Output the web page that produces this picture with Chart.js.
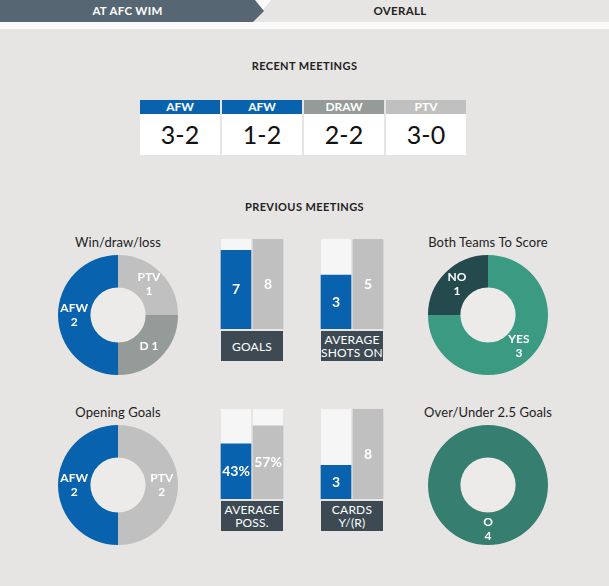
<!DOCTYPE html>
<html>
<head>
<meta charset="utf-8">
<script src="https://cdn.jsdelivr.net/npm/chart.js@4.4.0/dist/chart.umd.min.js"></script>
<style>
    body { margin: 0; background: #e6e5e3; font-family: Lato, 'Open Sans', sans-serif; }
    #page { position: relative; width: 609px; height: 586px; overflow: hidden; }
    .abs { position: absolute; }
    #topStrip { left: 0; top: 0; width: 609px; height: 29px; background: #fafafa; }
    .tab { top: 0; height: 22px; width: 609px; left: 0; }
    #tabOverall { background: #e6e5e3; clip-path: polygon(271px 0, 609px 0, 609px 22px, 253px 22px); }
    #tabHome { background: #566672; clip-path: polygon(0 0, 255px 0, 264px 11px, 253px 22px, 0 22px); }
    .tab-text { top: 0; height: 22px; line-height: 22px; font-size: 11.5px; font-weight: bold; text-align: center; letter-spacing: 0.3px; }
    .section-title { left: 0; width: 609px; text-align: center; font-size: 11px; font-weight: bold; color: #222; letter-spacing: 0.4px; }
    .result { width: 80px; }
    .result-head { height: 14px; line-height: 14px; color: #fff; font-size: 12px; font-weight: bold; text-align: center; }
    .result-score { height: 41px; line-height: 41px; background: #fff; color: #111; font-size: 25px; text-align: center; }
    .chart-title { width: 160px; text-align: center; font-size: 13px; color: #222; letter-spacing: 0.1px; }
    .bar-label { width: 62px; height: 30px; background: #3d4a53; color: #fff; font-size: 12px; line-height: 13px; letter-spacing: 0.2px;
        display: flex; align-items: center; justify-content: center; text-align: center; }
</style>
</head>
<body>
<div id="page">
    <div id="topStrip" class="abs"></div>
    <div id="tabOverall" class="abs tab"></div>
    <div id="tabHome" class="abs tab"></div>
    <div class="abs tab-text" style="left:0;width:255px;color:#fff;">AT AFC WIM</div>
    <div class="abs tab-text" style="left:264px;width:272px;color:#222;">OVERALL</div>

    <div class="abs section-title" style="top:59px;">RECENT MEETINGS</div>
    <div id="recent"></div>

    <div class="abs section-title" style="top:200px;">PREVIOUS MEETINGS</div>

    <div class="abs chart-title" style="left:38px;top:234px;">Win/draw/loss</div>
    <div class="abs chart-title" style="left:408px;top:234px;">Both Teams To Score</div>
    <div class="abs chart-title" style="left:38px;top:404px;">Opening Goals</div>
    <div class="abs chart-title" style="left:408px;top:404px;">Over/Under 2.5 Goals</div>

    <canvas id="wdlChart" class="abs" width="120" height="120" style="left:58px;top:255px;"></canvas>
    <canvas id="bttsChart" class="abs" width="120" height="120" style="left:428px;top:255px;"></canvas>
    <canvas id="openChart" class="abs" width="120" height="120" style="left:58px;top:425px;"></canvas>
    <canvas id="ouChart" class="abs" width="120" height="120" style="left:428px;top:425px;"></canvas>

    <canvas id="goalsChart" class="abs" width="64" height="90" style="left:220px;top:239px;"></canvas>
    <canvas id="shotsChart" class="abs" width="64" height="90" style="left:320px;top:239px;"></canvas>
    <canvas id="possChart" class="abs" width="64" height="90" style="left:220px;top:409px;"></canvas>
    <canvas id="cardsChart" class="abs" width="64" height="90" style="left:320px;top:409px;"></canvas>

    <div class="abs bar-label" style="left:221px;top:331px;">GOALS</div>
    <div class="abs bar-label" style="left:321px;top:331px;">AVERAGE<br>SHOTS ON</div>
    <div class="abs bar-label" style="left:221px;top:501px;">AVERAGE<br>POSS.</div>
    <div class="abs bar-label" style="left:321px;top:501px;">CARDS<br>Y/(R)</div>
</div>
<script>
const recentWinners = ['AFW', 'AFW', 'DRAW', 'PTV'];
const recentScores = ['3-2', '1-2', '2-2', '3-0'];
const recentColors = ['#0862ad', '#0862ad', '#959b98', '#c0c0c0'];

const wdlLabels = ['PTV', 'D', 'AFW'];
const wdlValues = [1, 1, 2];
const wdlColors = ['#c0c0c0', '#959b98', '#0862ad'];

const bttsLabels = ['YES', 'NO'];
const bttsValues = [3, 1];
const bttsColors = ['#3a9a82', '#254a4e'];

const openLabels = ['PTV', 'AFW'];
const openValues = [2, 2];
const openColors = ['#c0c0c0', '#0862ad'];

const ouLabels = ['O'];
const ouValues = [4];
const ouColors = ['#367f70'];

// labels drawn on one line inside the ring
const inlineLabels = ['D'];

const barTeams = ['AFW', 'PTV'];
const barColors = ['#0862ad', '#c0c0c0'];
const goalsValues = [7, 8];
const shotsValues = [3, 5];
const possValues = [43, 57];
const cardsValues = [3, 8];
const goalsMax = 8;
const shotsMax = 5;
const possMax = 70;
const cardsMax = 8;

const recentBox = document.getElementById('recent');
recentBox.innerHTML = recentWinners.map((winner, i) => `
    <div class="abs result" style="left:${140 + i * 82}px;top:100px;">
        <div class="result-head" style="background:${recentColors[i]}">${winner}</div>
        <div class="result-score">${recentScores[i]}</div>
    </div>
`).join('');

const ringCenter = {
    id: 'ringCenter',
    beforeDatasetsDraw(chart) {
        const arc = chart.getDatasetMeta(0).data[0];
        const ctx = chart.ctx;
        ctx.save();
        ctx.fillStyle = '#ecebea';
        ctx.beginPath();
        ctx.arc(arc.x, arc.y, arc.innerRadius, 0, Math.PI * 2);
        ctx.fill();
        ctx.restore();
    }
};

const ringLabels = {
    id: 'ringLabels',
    afterDatasetsDraw(chart) {
        const ctx = chart.ctx;
        const values = chart.data.datasets[0].data;
        ctx.save();
        ctx.fillStyle = '#fff';
        ctx.font = 'bold 12px Lato, sans-serif';
        ctx.textAlign = 'center';
        ctx.textBaseline = 'middle';
        chart.getDatasetMeta(0).data.forEach((arc, i) => {
            const pos = arc.tooltipPosition();
            const label = chart.data.labels[i];
            if (inlineLabels.includes(label)) {
                ctx.fillText(label + ' ' + values[i], pos.x, pos.y);
            } else {
                ctx.fillText(label, pos.x, pos.y - 7);
                ctx.fillText(values[i], pos.x, pos.y + 7);
            }
        });
        ctx.restore();
    }
};

function makeRing(id, labels, values, colors) {
    return new Chart(document.getElementById(id), {
        type: 'doughnut',
        data: {
            labels: labels,
            datasets: [{ data: values, backgroundColor: colors, borderWidth: 0 }]
        },
        options: {
            responsive: false,
            animation: false,
            cutout: '46%',
            plugins: { legend: { display: false }, tooltip: { enabled: false } }
        },
        plugins: [ringCenter, ringLabels]
    });
}

const barTrack = {
    id: 'barTrack',
    beforeDatasetsDraw(chart) {
        const ctx = chart.ctx;
        const area = chart.chartArea;
        ctx.save();
        ctx.fillStyle = '#f6f6f6';
        chart.getDatasetMeta(0).data.forEach((bar) => {
            ctx.fillRect(bar.x - bar.width / 2, area.top, bar.width, area.bottom - area.top);
        });
        ctx.restore();
    }
};

const barValues = {
    id: 'barValues',
    afterDatasetsDraw(chart) {
        const ctx = chart.ctx;
        const suffix = chart.options.valueSuffix || '';
        const values = chart.data.datasets[0].data;
        ctx.save();
        ctx.fillStyle = '#fff';
        ctx.font = 'bold 14px Lato, sans-serif';
        ctx.textAlign = 'center';
        ctx.textBaseline = 'middle';
        chart.getDatasetMeta(0).data.forEach((bar, i) => {
            ctx.fillText(values[i] + suffix, bar.x, (bar.y + bar.base) / 2);
        });
        ctx.restore();
    }
};

function makeBars(id, values, max, suffix) {
    return new Chart(document.getElementById(id), {
        type: 'bar',
        data: {
            labels: barTeams,
            datasets: [{ data: values, backgroundColor: barColors, barThickness: 30, borderWidth: 0 }]
        },
        options: {
            responsive: false,
            animation: false,
            valueSuffix: suffix,
            layout: { padding: 0 },
            scales: {
                x: { display: false },
                y: { display: false, min: 0, max: max }
            },
            plugins: { legend: { display: false }, tooltip: { enabled: false } }
        },
        plugins: [barTrack, barValues]
    });
}

makeRing('wdlChart', wdlLabels, wdlValues, wdlColors);
makeRing('bttsChart', bttsLabels, bttsValues, bttsColors);
makeRing('openChart', openLabels, openValues, openColors);
makeRing('ouChart', ouLabels, ouValues, ouColors);

makeBars('goalsChart', goalsValues, goalsMax, '');
makeBars('shotsChart', shotsValues, shotsMax, '');
makeBars('possChart', possValues, possMax, '%');
makeBars('cardsChart', cardsValues, cardsMax, '');
</script>
</body>
</html>
